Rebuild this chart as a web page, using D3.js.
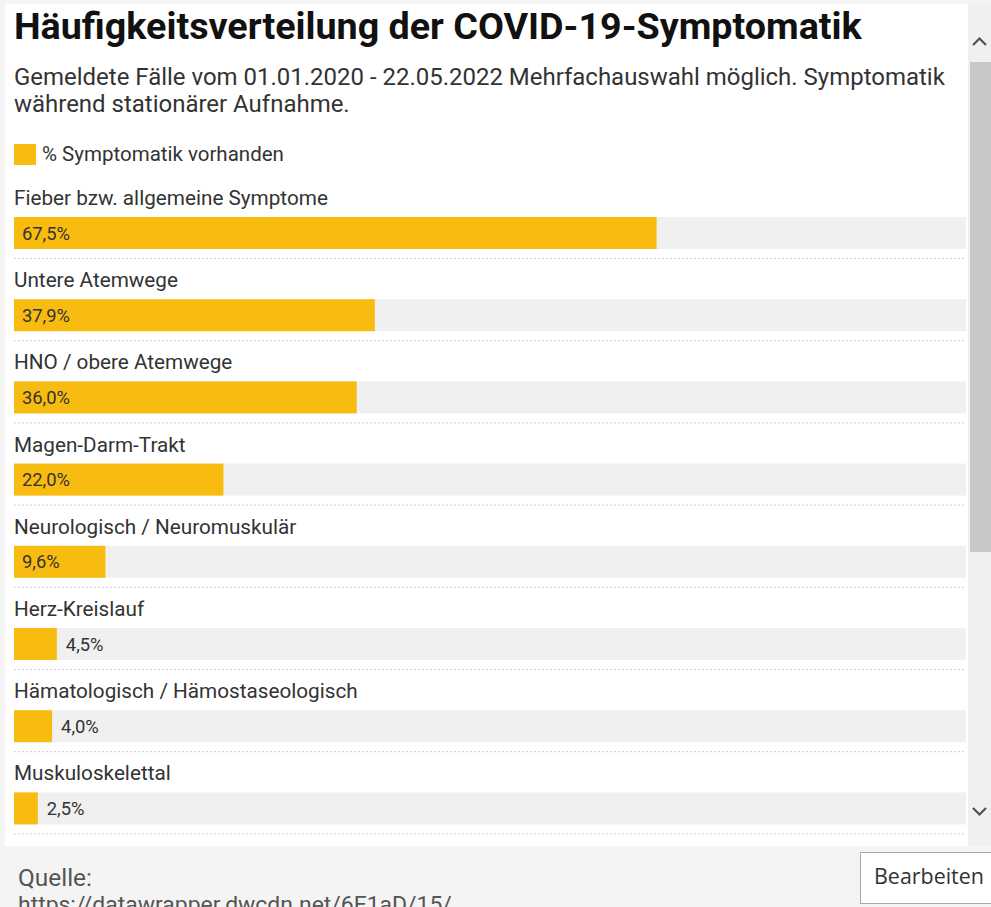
<!DOCTYPE html>
<html><head><meta charset="utf-8">
<script src="https://cdn.jsdelivr.net/npm/d3@7"></script>
<style>
html,body{margin:0;padding:0;background:#f4f4f4;overflow:hidden;}
svg{display:block;}
text{font-family:Roboto,"Noto Sans",sans-serif;}
</style></head>
<body>
<svg id="c" width="991" height="907"></svg>
<script>
const title = "Häufigkeitsverteilung der COVID-19-Symptomatik";
const subtitleLines = ["Gemeldete Fälle vom 01.01.2020 - 22.05.2022 Mehrfachauswahl möglich. Symptomatik", "während stationärer Aufnahme."];
const legendLabel = "% Symptomatik vorhanden";
const categories = ["Fieber bzw. allgemeine Symptome","Untere Atemwege","HNO / obere Atemwege","Magen-Darm-Trakt","Neurologisch / Neuromuskulär","Herz-Kreislauf","Hämatologisch / Hämostaseologisch","Muskuloskelettal"];
const values = [67.5, 37.9, 36.0, 22.0, 9.6, 4.5, 4.0, 2.5];
const sourceLabel = "Quelle:";
const sourceUrl = "https://datawrapper.dwcdn.net/6E1aD/15/";
const buttonLabel = "Bearbeiten";

const svg = d3.select("#c");
const W = 991, H = 907;
const frame = {x0:5, y0:4, x1:968, y1:846};
const yellow = "#f8bb0f";

svg.append("rect").attr("width",W).attr("height",H).attr("fill","#f4f4f4");
svg.append("defs").append("clipPath").attr("id","fc").append("rect")
  .attr("x",frame.x0).attr("y",frame.y0).attr("width",frame.x1-frame.x0).attr("height",frame.y1-frame.y0);
svg.append("rect").attr("x",frame.x0).attr("y",frame.y0).attr("width",frame.x1-frame.x0).attr("height",frame.y1-frame.y0).attr("fill","#fff");

const g = svg.append("g").attr("clip-path","url(#fc)");

// font size that makes a sample text reach a target width
function fitSize(family, weight, base, sample, target){
  const tmp = svg.append("text").style("font-family",family).attr("font-weight",weight).attr("font-size",base).text(sample);
  const w = tmp.node().getComputedTextLength(); tmp.remove();
  return +(base*target/w).toFixed(2);
}
const FAM = "Roboto,'Noto Sans',sans-serif";

// title
const titleSize = fitSize(FAM,700,34,title,848);
g.append("text").attr("x",14).attr("y",39).attr("font-size",titleSize).attr("font-weight",700).attr("fill","#111").text(title);
// subtitle
const subSize = fitSize(FAM,400,20,subtitleLines[0],931);
subtitleLines.forEach((s,i)=>{
  g.append("text").attr("x",14).attr("y",85+i*27).attr("font-size",subSize).attr("fill","#333").text(s);
});
// legend
g.append("rect").attr("x",14).attr("y",144).attr("width",22).attr("height",21).attr("fill",yellow);
const legSize = fitSize(FAM,400,15,legendLabel,242);
g.append("text").attr("x",42).attr("y",160.5).attr("font-size",legSize).attr("fill","#333").text(legendLabel);

// bars
const x = d3.scaleLinear().domain([0,100]).range([14,966]);
const y = d3.scaleBand().domain(categories).range([183, 183+82.2*categories.length]).paddingInner(0).paddingOuter(0);
const labSize = fitSize(FAM,400,17,categories[0],314);
const fmt = v => d3.format(".1f")(v).replace(".",",") + "%";
const valSize = fitSize(FAM,400,16,fmt(values[0]),48);

const rows = g.selectAll("g.row").data(categories.map((c,i)=>({c, v:values[i]}))).join("g").attr("class","row")
  .attr("transform", d=>`translate(0,${y(d.c)})`);

rows.append("text").attr("x",14).attr("y",22).attr("font-size",labSize).attr("fill","#333").text(d=>d.c);
rows.append("rect").attr("x",x(0)).attr("y",34).attr("width",x(100)-x(0)).attr("height",32).attr("fill","#f0f0f0");
rows.append("rect").attr("x",x(0)).attr("y",34).attr("width",d=>x(d.v)-x(0)).attr("height",32).attr("fill",yellow);
rows.append("line").attr("x1",14).attr("x2",966).attr("y1",75.5).attr("y2",75.5)
  .attr("stroke","#cfcfcf").attr("stroke-width",1).attr("stroke-dasharray","2,2");
rows.append("text").attr("font-size",valSize).attr("fill","#333").attr("y",56.5)
  .text(d=>fmt(d.v))
  .each(function(d){
    const w = this.getComputedTextLength();
    const bw = x(d.v)-x(0);
    d3.select(this).attr("x", bw > w+14 ? x(0)+8 : x(d.v)+9);
  });

// scrollbar
svg.append("rect").attr("x",968).attr("y",4).attr("width",23).attr("height",842).attr("fill","#f0f0f0");
svg.append("rect").attr("x",970).attr("y",62).attr("width",21).attr("height",490).attr("fill","#c8c8c8");
svg.append("path").attr("d","M973,45 L979.5,38.5 L986,45").attr("fill","none").attr("stroke","#505050").attr("stroke-width",2.2);
svg.append("path").attr("d","M973,808 L979.5,814.5 L986,808").attr("fill","none").attr("stroke","#505050").attr("stroke-width",2.2);

// footer
const qSize = fitSize(FAM,400,20,sourceLabel,74);
svg.append("text").attr("x",18).attr("y",886).attr("font-size",qSize).attr("fill","#555").text(sourceLabel);
const uSize = fitSize(FAM,400,20,sourceUrl,434);
svg.append("text").attr("x",18).attr("y",912).attr("font-size",uSize).attr("fill","#555").text(sourceUrl);
svg.append("rect").attr("x",860.5).attr("y",852.5).attr("width",140).attr("height",51).attr("fill","#fff").attr("stroke","#aaa");
const BF = "'Open Sans','DejaVu Sans',sans-serif";
const bSize = fitSize(BF,400,17,buttonLabel,110);
svg.append("text").attr("x",874).attr("y",884).attr("font-size",bSize).attr("fill","#333")
  .style("font-family",BF).text(buttonLabel);
</script>
</body></html>
